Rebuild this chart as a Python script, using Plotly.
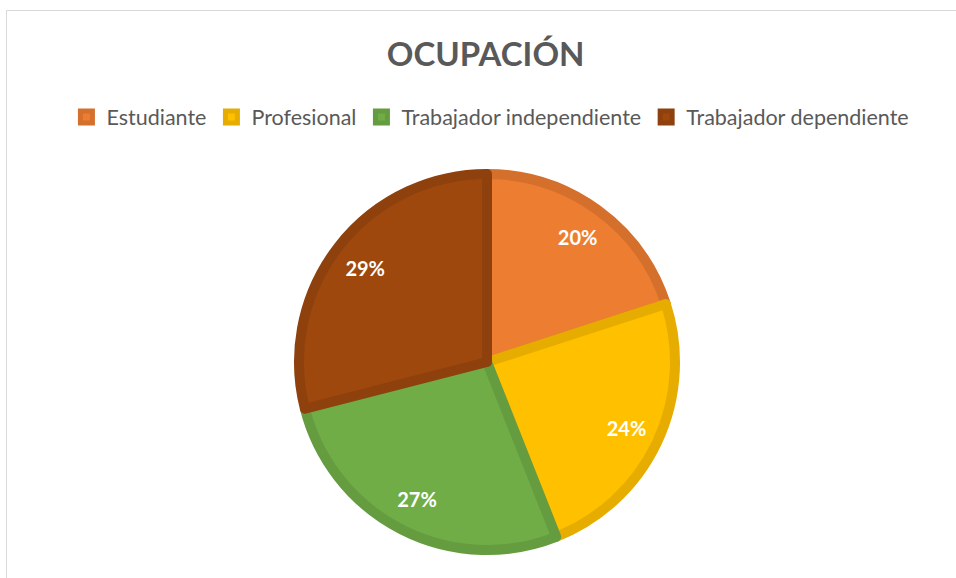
import plotly.graph_objects as go

labels = ["Estudiante", "Profesional", "Trabajador independiente", "Trabajador dependiente"]
values = [20, 24, 27, 29]
fill_colors = ["#ED7D31", "#FFC000", "#70AD47", "#9E480E"]
edge_colors = ["#D5702C", "#E6AD00", "#659C40", "#8E410D"]

W, H = 956, 578
cx, cy, R = 487, 362, 188
dom_x = [(cx - R) / W, (cx + R) / W]
dom_y = [1 - (cy + R) / H, 1 - (cy - R) / H]

fig = go.Figure()
fig.add_trace(go.Pie(
    labels=labels, values=values, sort=False, direction="clockwise", rotation=0,
    marker=dict(colors=fill_colors, line=dict(color=edge_colors, width=10)),
    textinfo="none", hoverinfo="label+percent",
    domain=dict(x=dom_x, y=dom_y), showlegend=True,
))
fig.add_trace(go.Pie(
    labels=labels, values=values, sort=False, direction="clockwise", rotation=0,
    hole=0.64,
    marker=dict(colors=["rgba(0,0,0,0)"] * 4, line=dict(width=0)),
    texttemplate="%{percent:.0%}", textposition="inside",
    insidetextorientation="horizontal",
    textfont=dict(family="Lato", size=20, color="white", weight="bold"),
    hoverinfo="skip",
    domain=dict(x=dom_x, y=dom_y), showlegend=False,
))

fig.update_layout(
    width=W, height=H,
    margin=dict(l=0, r=0, t=0, b=0),
    paper_bgcolor="white",
    title=dict(text="<b>OCUPACIÓN</b>", x=0.508, xanchor="center", y=1 - 54 / H, yanchor="middle",
               font=dict(family="Lato", size=33, color="#595959")),
    legend=dict(orientation="h", x=0.513, xanchor="center", y=1 - 117 / H, yanchor="middle",
                font=dict(family="Lato", size=21.5, color="#595959"), traceorder="normal"),
    shapes=[dict(type="rect", xref="paper", yref="paper", x0=6.5 / W, x1=1 + 5 / W, y0=-5 / H, y1=1 - 10.5 / H,
                 line=dict(color="#D9D9D9", width=1), fillcolor="rgba(0,0,0,0)", layer="below")],
)

fig.write_html("out.html", config={"displayModeBar": False},
               post_script="document.body.style.margin='0px';")
